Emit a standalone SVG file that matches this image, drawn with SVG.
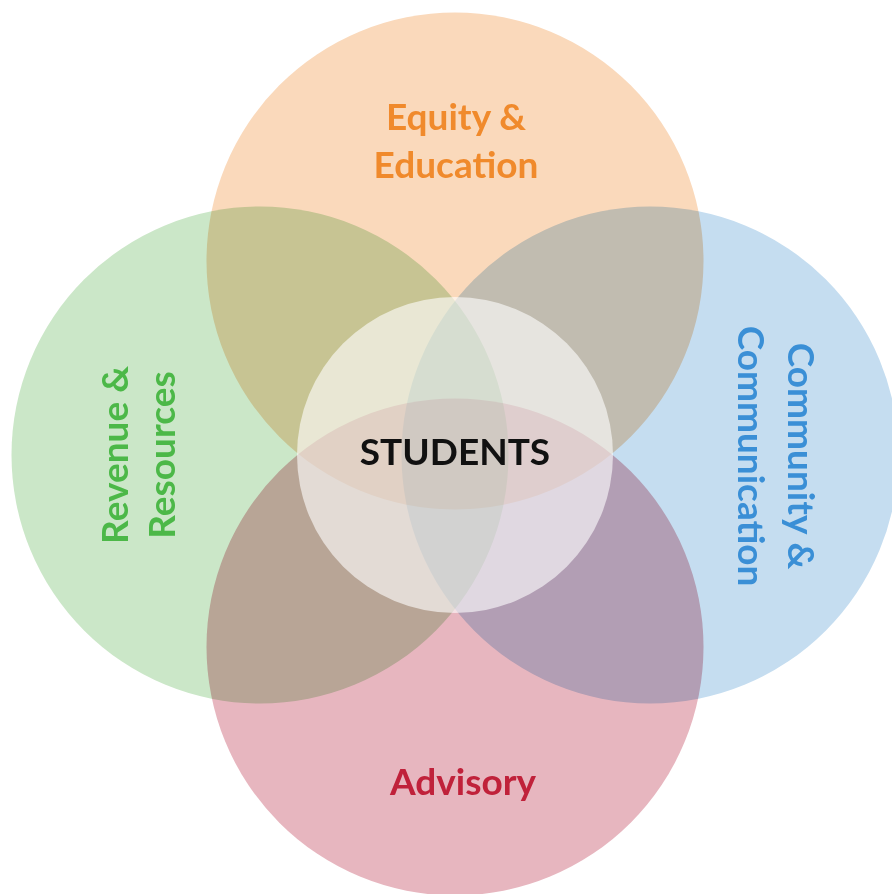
<svg xmlns="http://www.w3.org/2000/svg" width="892" height="894" viewBox="0 0 892 894">
  <style>
    .c { mix-blend-mode: multiply; }
    .lbl { font-family: Lato, "Open Sans", "Liberation Sans", sans-serif; font-weight: bold; font-size: 37px; text-anchor: middle; }
  </style>
  <rect width="892" height="894" fill="#ffffff"/>
  <g style="isolation:isolate">
    <g id="equity">
      <circle class="c" cx="455" cy="261" r="248.5" fill="#fad9bb"/>
    </g>
    <g id="revenue">
      <circle class="c" cx="260" cy="455" r="248.5" fill="#cbe7c8"/>
    </g>
    <g id="community">
      <circle class="c" cx="650" cy="455" r="248.5" fill="#c5ddf0"/>
    </g>
    <g id="advisory">
      <circle class="c" cx="455" cy="647" r="248.5" fill="#e7b6bf"/>
    </g>
  </g>
  <g id="students">
    <circle cx="455" cy="455" r="158" fill="#ffffff" fill-opacity="0.6"/>
    <text class="lbl" x="455" y="465" fill="#111111" font-size="35">STUDENTS</text>
  </g>
  <g id="labels">
    <text class="lbl" x="456" y="130" fill="#f08a2c">Equity &amp;</text>
    <text class="lbl" x="456" y="178" fill="#f08a2c">Education</text>
    <text class="lbl" x="463" y="795" fill="#c0213a">Advisory</text>
    <g transform="translate(128,455) rotate(-90)">
      <text class="lbl" x="0" y="0" fill="#4cb848">Revenue &amp;</text>
      <text class="lbl" x="0" y="47" fill="#4cb848">Resources</text>
    </g>
    <g transform="translate(788,456) rotate(90)">
      <text class="lbl" x="0" y="0" fill="#3a8fd6">Community &amp;</text>
      <text class="lbl" x="0" y="50" fill="#3a8fd6">Communication</text>
    </g>
  </g>
</svg>
